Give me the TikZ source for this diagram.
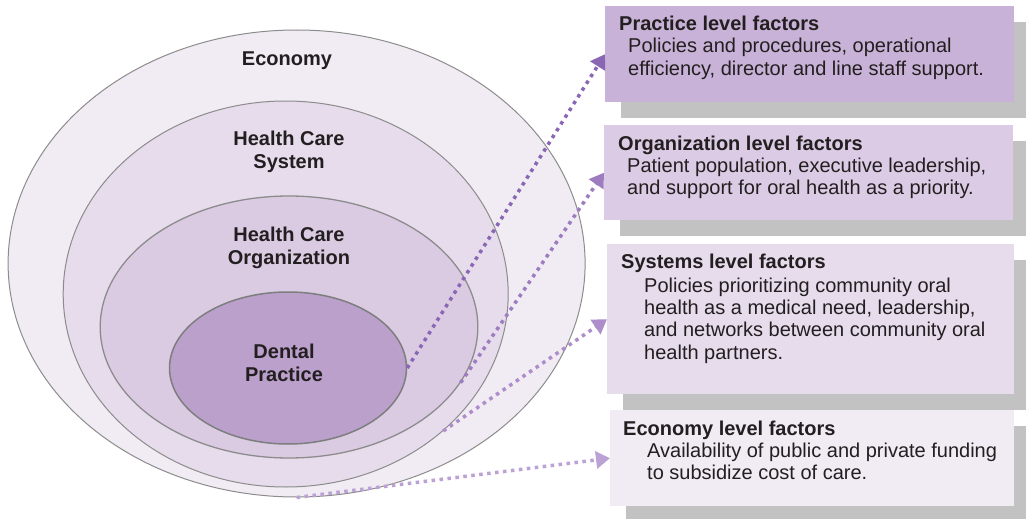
\documentclass[tikz,border=0pt]{standalone}
\usepackage{fontspec}
\setmainfont{Liberation Sans}
\usetikzlibrary{shapes.geometric,arrows.meta,shadows}
\definecolor{txtc}{HTML}{231F20}
\definecolor{ellA}{HTML}{F1ECF4}
\definecolor{ellB}{HTML}{E6DCEC}
\definecolor{ellC}{HTML}{DACBE3}
\definecolor{ellD}{HTML}{BAA0CB}
\definecolor{ellStroke}{HTML}{8C8C8C}
\definecolor{boxA}{HTML}{C9B2D7}
\definecolor{boxB}{HTML}{DCCBE4}
\definecolor{boxC}{HTML}{E6DCEC}
\definecolor{boxD}{HTML}{F1EBF4}
\definecolor{shadowc}{HTML}{C2C2C2}
\definecolor{arrA}{HTML}{8A67B4}
\definecolor{arrB}{HTML}{9D7CC0}
\definecolor{arrC}{HTML}{AD8ECB}
\definecolor{arrD}{HTML}{BCA1D5}
\tikzset{
  ring/.style={ellipse, draw=ellStroke, line width=1pt, inner sep=0pt},
  ringlabel/.style={font=\bfseries\fontsize{20}{23}\selectfont, text=txtc, align=center, inner sep=0pt},
  factorbox/.style={rectangle, anchor=north west, inner sep=0pt, minimum width=409pt, minimum height=96pt,
     drop shadow={shadow xshift=16pt, shadow yshift=-16pt, fill=shadowc, opacity=1}},
  boxtitle/.style={font=\bfseries\fontsize{20}{22}\selectfont, text=txtc, anchor=base west, inner sep=0pt},
  boxbody/.style={font=\fontsize{20}{22.2}\selectfont, text=txtc, anchor=base west, align=left, inner sep=0pt},
  link/.style={line width=3.5pt, dash pattern=on 3.5pt off 4.5pt, -{Triangle[length=14pt,width=17pt]}, shorten >=0pt}
}
\begin{document}
\begin{tikzpicture}[x=1pt,y=-1pt]
\useasboundingbox (0,0) rectangle (1026,519);
\clip (0,0) rectangle (1026,519);
% rings
\node[ring, fill=ellA, minimum width=577pt, minimum height=467pt] (economy) at (296.6,263.5) {};
\node[ring, fill=ellB, minimum width=445pt, minimum height=386pt] (system) at (285.7,294) {};
\node[ring, fill=ellC, minimum width=377.6pt, minimum height=262pt, line width=1.3pt] (org) at (289,327) {};
\node[ring, fill=ellD, minimum width=237pt, minimum height=152pt, line width=1.5pt, draw=ellStroke!90!black] (dental) at (288,368) {};
% ring labels
\node[ringlabel] (lblEconomy) at (287,60.5) {Economy};
\node[ringlabel] (lblSystem) at (289,151.5) {Health Care\\System};
\node[ringlabel] (lblOrg) at (289,247.5) {Health Care\\Organization};
\node[ringlabel] (lblDental) at (284,362.5) {Dental\\Practice};
% factor boxes
\node[factorbox, fill=boxA, minimum height=96pt] (pbox) at (605,6) {};
\node[factorbox, fill=boxB, minimum height=95pt] (obox) at (604,125) {};
\node[factorbox, fill=boxC, minimum width=407pt, minimum height=150pt] (sbox) at (607,244) {};
\node[factorbox, fill=boxD, minimum width=404pt, minimum height=96pt] (ebox) at (610,410) {};
% box texts (body nodes anchored at the baseline of their last line)
\node[boxtitle] (ptitle) at (619,31) {Practice level factors};
\node[boxbody] (pbody) at (628,75.2) {Policies and procedures, operational\\efficiency, director and line staff support.};
\node[boxtitle] (otitle) at (618,150) {Organization level factors};
\node[boxbody] (obody) at (627,194.2) {Patient population, executive leadership,\\and support for oral health as a priority.};
\node[boxtitle] (stitle) at (621,268.5) {Systems level factors};
\node[boxbody] (sbody) at (644,359.1) {Policies prioritizing community oral\\health as a medical need, leadership,\\and networks between community oral\\health partners.};
\node[boxtitle] (etitle) at (623,435) {Economy level factors};
\node[boxbody] (ebody) at (647,479.7) {Availability of public and private funding\\to subsidize cost of care.};
% connectors
\draw[link, arrA] (dental.east) -- (pbox.west);
\draw[link, arrB] (org.-18) -- (obox.west);
\draw[link, arrC] (system.-41) -- (sbox.west);
\draw[link, arrD] (economy.south) -- (ebox.west);
\end{tikzpicture}
\end{document}
